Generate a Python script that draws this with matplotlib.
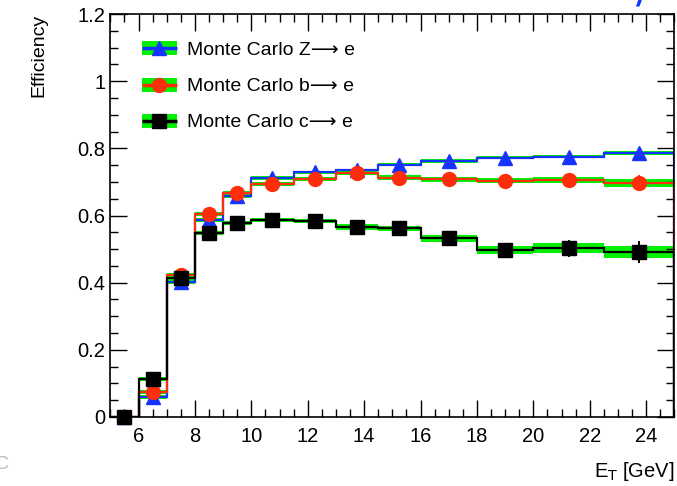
import numpy as np
import matplotlib.pyplot as plt
from matplotlib.lines import Line2D
from matplotlib.ticker import MultipleLocator

plt.rcParams['font.family'] = ['Liberation Sans', 'DejaVu Sans']

# bin edges in E_T [GeV]
edges = [5, 6, 7, 8, 9, 10, 11.5, 13, 14.5, 16, 18, 20, 22.5, 25]

# efficiencies
eff_z = [0.0, 0.06, 0.403, 0.586, 0.658, 0.712, 0.729, 0.735, 0.752, 0.762, 0.772, 0.775, 0.785]
eff_b = [0.0, 0.075, 0.424, 0.605, 0.667, 0.693, 0.710, 0.727, 0.713, 0.708, 0.704, 0.705, 0.697]
eff_c = [0.0, 0.112, 0.413, 0.548, 0.578, 0.588, 0.584, 0.566, 0.562, 0.532, 0.496, 0.503, 0.492]

# systematic band half widths (green)
band_z = [0.0, 0.006, 0.006, 0.006, 0.006, 0.006, 0.005, 0.005, 0.005, 0.005, 0.005, 0.005, 0.006]
band_b = [0.0, 0.006, 0.006, 0.006, 0.006, 0.006, 0.006, 0.006, 0.007, 0.008, 0.008, 0.009, 0.012]
band_c = [0.0, 0.006, 0.006, 0.006, 0.006, 0.006, 0.007, 0.008, 0.008, 0.010, 0.012, 0.015, 0.018]

# statistical error bars
stat_z = [0.0, 0.004, 0.004, 0.004, 0.004, 0.004, 0.004, 0.004, 0.004, 0.004, 0.005, 0.005, 0.006]
stat_b = [0.0, 0.004, 0.004, 0.004, 0.004, 0.004, 0.004, 0.005, 0.005, 0.006, 0.010, 0.016, 0.024]
stat_c = [0.0, 0.004, 0.004, 0.004, 0.004, 0.004, 0.005, 0.006, 0.008, 0.010, 0.020, 0.025, 0.032]

labels = ['Monte Carlo Z⟶ e', 'Monte Carlo b⟶ e', 'Monte Carlo c⟶ e']

BLUE = '#1433ff'
RED = '#ff2d0a'
GREEN = '#00f000'

fig = plt.figure(figsize=(6.77, 4.86), dpi=100)
ax = fig.add_axes([0.163, 0.142, 0.833, 0.829])

edges_a = np.array(edges)
centers = 0.5 * (edges_a[1:] + edges_a[:-1])

series = [
    (eff_z, band_z, stat_z, BLUE, '^', 10),
    (eff_b, band_b, stat_b, RED, 'o', 10),
    (eff_c, band_c, stat_c, 'black', 's', 9.5),
]

# bands first, then lines, then markers
for vals, band, stat, col, mk, ms in series:
    v = np.array(vals)
    b = np.array(band)
    ax.stairs(v + b, edges, baseline=v - b, fill=True, color=GREEN, lw=0, zorder=1)
for vals, band, stat, col, mk, ms in series:
    ax.stairs(vals, edges, color=col, lw=1.6, zorder=2)
for vals, band, stat, col, mk, ms in series:
    ax.errorbar(centers, vals, yerr=stat, fmt=mk, color=col, ms=ms,
                elinewidth=1.4, capsize=0, zorder=3, clip_on=False)

ax.set_xlim(5, 25)
ax.set_ylim(0, 1.2)

ax.xaxis.set_major_locator(MultipleLocator(2))
ax.xaxis.set_minor_locator(MultipleLocator(0.5))
ax.yaxis.set_major_locator(MultipleLocator(0.2))
ax.yaxis.set_minor_locator(MultipleLocator(0.05))
ax.set_yticks([0, 0.2, 0.4, 0.6, 0.8, 1.0, 1.2])
ax.set_yticklabels(['0', '0.2', '0.4', '0.6', '0.8', '1', '1.2'])
ax.tick_params(which='both', direction='in', top=True, right=True, labelsize=14.5)
ax.tick_params(which='major', length=12, width=1)
ax.tick_params(which='minor', length=6, width=1)
ax.tick_params(axis='x', pad=7)
for s in ax.spines.values():
    s.set_linewidth(1.2)

ax.set_ylabel('Efficiency', fontsize=14, loc='top', labelpad=22)
ax.set_xlabel('E$_{\\mathrm{T}}$ [GeV]', fontsize=14.5, loc='right', labelpad=10)

handles = []
for vals, band, stat, col, mk, ms in series:
    g = Line2D([], [], color=GREEN, lw=10, solid_capstyle='butt')
    l = Line2D([], [], color=col, lw=2.5, marker=mk, ms=ms, solid_capstyle='butt')
    handles.append((g, l))
leg = ax.legend(handles, labels, loc='upper left', bbox_to_anchor=(0.025, 0.975),
                frameon=False, fontsize=14, handlelength=1.8, labelspacing=0.95,
                handletextpad=0.5)

# cut-off decoration texts at the edges of the figure
fig.text(0.94, 1.005, '/', color=BLUE, fontsize=22, fontstyle='italic',
         fontweight='bold', va='center', ha='left')
fig.text(-0.008, 0.045, 'C', color='#bbbbbb', fontsize=14, va='center', ha='left')

fig.savefig('out.png', dpi=100)
